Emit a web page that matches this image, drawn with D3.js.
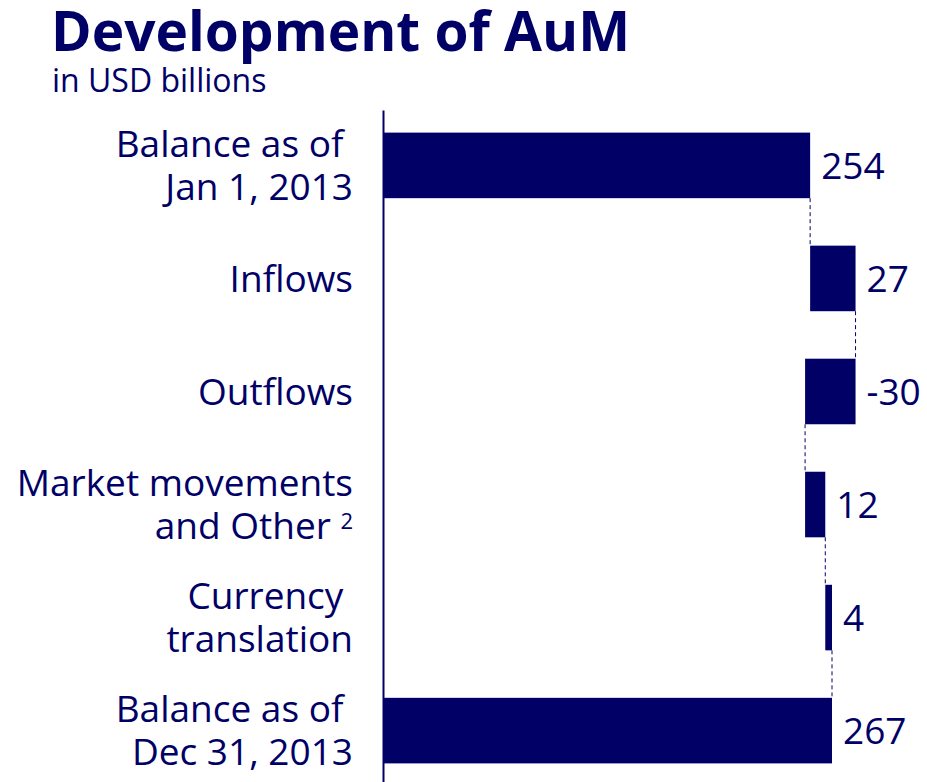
<!DOCTYPE html>
<html>
<head>
<meta charset="utf-8">
<script src="https://cdn.jsdelivr.net/npm/d3@7"></script>
<style>
  body { margin: 0; background: #fff; }
  text { font-family: "Open Sans", sans-serif; fill: #000066; }
</style>
</head>
<body>
<div id="chart"></div>
<script>
const WIDTH = 927
const HEIGHT = 782
const NAVY = "#000066"

const categories = ["Balance Jan", "Inflows", "Outflows", "Market", "Currency", "Balance Dec"]
const labelLines = [
  ["Balance as of ", "Jan 1, 2013"],
  ["Inflows"],
  ["Outflows"],
  ["Market movements", "and Other"],
  ["Currency ", "translation"],
  ["Balance as of ", "Dec 31, 2013"]
]
const footnotes = [null, null, null, "2", null, null]
const values = [254, 27, -30, 12, 4, 267]
const isTotal = [true, false, false, false, false, true]

// running totals for the waterfall
let running = 0
const data = categories.map(function(c, i) {
  let start, end
  if (isTotal[i]) { start = 0; end = values[i]; running = values[i] }
  else { start = running; end = running + values[i]; running = end }
  return {cat: c, lines: labelLines[i], note: footnotes[i], value: values[i], start: start, end: end, total: isTotal[i]}
})

const svg = d3.select("#chart").append("svg")
  .attr("width", WIDTH)
  .attr("height", HEIGHT)

svg.append("text")
  .attr("x", 51)
  .attr("y", 51)
  .attr("font-size", "55px")
  .attr("font-weight", "bold")
  .text("Development of AuM")

svg.append("text")
  .attr("x", 52)
  .attr("y", 92)
  .attr("font-size", "32px")
  .text("in USD billions")

const x = d3.scaleLinear()
  .domain([0, 267])
  .range([383, 832])

const y = d3.scaleBand()
  .domain(categories)
  .range([110, 786])
  .paddingInner(0.42)
  .paddingOuter(0.2)

// axis line only
svg.append("g")
  .attr("transform", `translate(${x(0)}, 0)`)
  .call(d3.axisLeft(y).tickSize(0).tickSizeOuter(0).tickFormat(""))
  .select(".domain")
    .attr("stroke", NAVY)
    .attr("stroke-width", 2)

// dashed connectors
svg.selectAll(".connector")
  .data(data.slice(0, -1))
  .enter().append("line")
  .attr("class", "connector")
  .attr("x1", function(d) { return x(d.end) })
  .attr("x2", function(d) { return x(d.end) })
  .attr("y1", function(d) { return y(d.cat) + y.bandwidth() })
  .attr("y2", function(d, i) { return y(categories[i + 1]) })
  .attr("stroke", NAVY)
  .attr("stroke-width", 1)
  .attr("stroke-dasharray", "4,3")

svg.selectAll(".bar")
  .data(data)
  .enter().append("rect")
  .attr("class", "bar")
  .attr("x", function(d) { return x(Math.min(d.start, d.end)) })
  .attr("y", function(d) { return y(d.cat) })
  .attr("width", function(d) { return Math.abs(x(d.end) - x(d.start)) })
  .attr("height", y.bandwidth())
  .attr("fill", NAVY)

// value labels
svg.selectAll(".value")
  .data(data)
  .enter().append("text")
  .attr("class", "value")
  .attr("x", function(d) { return x(Math.max(d.start, d.end)) + 11 })
  .attr("y", function(d) { return y(d.cat) + y.bandwidth() / 2 })
  .attr("dy", "0.36em")
  .attr("font-size", "37px")
  .text(function(d) { return d.value })

// category labels
const LINE_H = 43
const labels = svg.selectAll(".cat")
  .data(data)
  .enter().append("text")
  .attr("class", "cat")
  .attr("text-anchor", "end")
  .attr("font-size", "37px")
  .style("white-space", "pre")

labels.each(function(d) {
  const t = d3.select(this)
  const cy = y(d.cat) + y.bandwidth() / 2
  const n = d.lines.length
  d.lines.forEach(function(line, j) {
    const isLast = j === n - 1
    t.append("tspan")
      .attr("x", 353)
      .attr("y", cy + (j - (n - 1) / 2) * LINE_H)
      .attr("dy", "0.36em")
      .text(line + (isLast && d.note ? " " : ""))
    if (isLast && d.note) {
      t.append("tspan")
        .attr("font-size", "22px")
        .attr("dy", "-0.45em")
        .text(d.note)
    }
  })
})
</script>
</body>
</html>
